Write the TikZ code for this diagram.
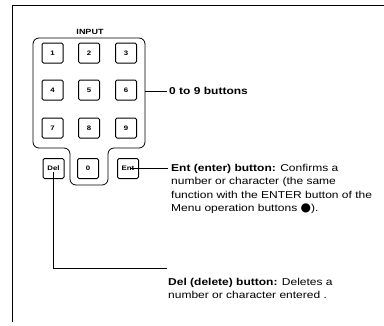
\documentclass[tikz,border=0pt]{standalone}
\usepackage{fontspec}
\setmainfont{Liberation Sans}[FakeStretch=1.2]
\newfontfamily\symfont{DejaVu Sans}
\begin{document}
\begin{tikzpicture}[
    x=1pt, y=-1pt,
    frameline/.style={black, line width=0.9pt},
    pad/.style={black, line width=0.8pt, rounded corners=6pt},
    key/.style={draw, line width=1pt, rounded corners=1.5pt,
                minimum width=21pt, minimum height=20pt, inner sep=0pt,
                font=\fontsize{6.5}{6.5}\selectfont\bfseries},
    lead/.style={black, line width=0.7pt},
    desc/.style={anchor=north west, inner sep=0pt, align=left,
                 font=\fontsize{10}{13.5}\selectfont}
]
\useasboundingbox (0,0) rectangle (384,325);

% One unit is one pixel of the page, y runs downwards.
\draw[frameline] (384,5) -- (12,5) -- (12,322);

% ---------- keypad outline ----------
\draw[pad] (89,38) -- (145,38) -- (145,148) -- (108,148) -- (108,185)
      -- (70,185) -- (70,148) -- (33,148) -- (33,38) -- cycle;
\node[font=\fontsize{7.5}{7.5}\selectfont\bfseries] (input) at (90,32) {INPUT};

% ---------- buttons ----------
\foreach \u/\v/\txt in {%
    52.5/53/1, 89/53/2, 126/53/3,
    52.5/90/4, 89/90/5, 126/90/6,
    52.5/128/7, 89/128/8, 126/128/9,
    88/168.5/0}
  \node[key] (b\txt) at (\u,\v) {\txt};
\node[key] (del) at (53.5,168.5) {Del};
\node[key] (ent) at (128,168.5) {Ent};

% ---------- callouts ----------
\coordinate (padR) at (145,91);
\node[desc, anchor=west] (numdesc) at (169,91) {\bfseries 0 to 9 buttons};
\draw[lead] (padR) -- ([xshift=-2pt]numdesc.west);

\node[desc] (entdesc) at (171,164)
  {\textbf{Ent (enter) button:} Confirms a\\
   number or character (the same\\
   function with the ENTER button of the\\
   Menu operation buttons {\symfont\fontsize{12}{12}\selectfont ●}).};
\draw[lead] ([xshift=2pt]ent.center) -- ([xshift=-3pt]ent.center -| entdesc.west);

\coordinate (delend) at (167,268);
\node[desc] (deldesc) at (168,278)
  {\textbf{Del (delete) button:} Deletes a\\
   number or character entered .};
\draw[lead] ([yshift=-3pt]del.center) |- (delend);

\end{tikzpicture}
\end{document}
